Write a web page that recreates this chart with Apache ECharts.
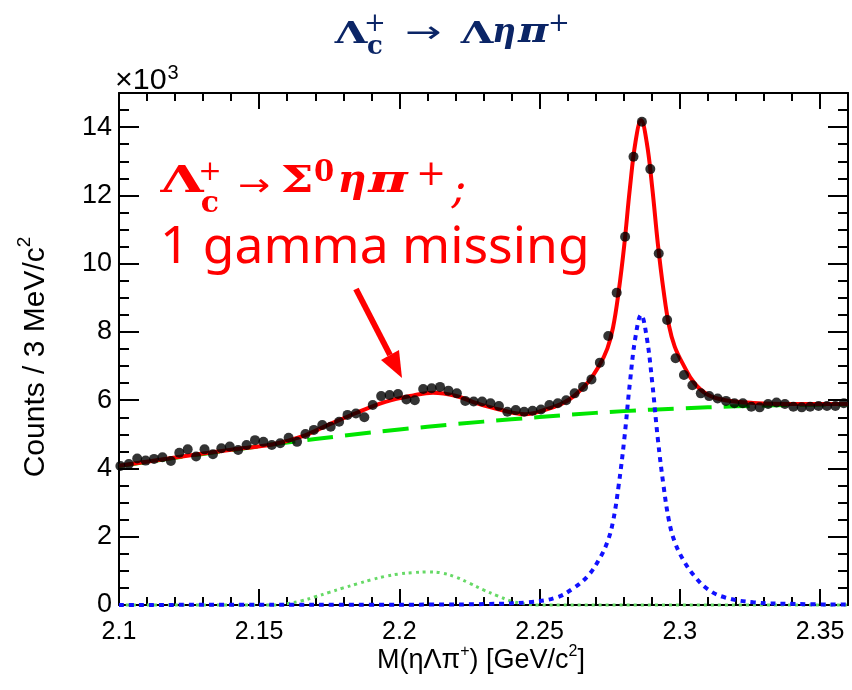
<!DOCTYPE html>
<html><head><meta charset="utf-8">
<script src="https://cdn.jsdelivr.net/npm/echarts@6/dist/echarts.min.js"></script>
<style>html,body{margin:0;padding:0;background:#fff}#c{width:852px;height:690px}</style>
</head><body><div id="c"></div>
<script>
// ---- data (values in units of 10^3 counts) ----
const binCenters = [
 2.1005,2.1035,2.1065,2.1095,2.1125,2.1155,2.1185,2.1215,2.1245,2.1275,
 2.1305,2.1335,2.1365,2.1395,2.1425,2.1455,2.1485,2.1515,2.1545,2.1575,
 2.1605,2.1635,2.1665,2.1695,2.1725,2.1755,2.1785,2.1815,2.1845,2.1875,
 2.1905,2.1935,2.1965,2.1995,2.2025,2.2055,2.2085,2.2115,2.2145,2.2175,
 2.2205,2.2235,2.2265,2.2295,2.2325,2.2355,2.2385,2.2415,2.2445,2.2475,
 2.2505,2.2535,2.2565,2.2595,2.2625,2.2655,2.2685,2.2715,2.2745,2.2775,
 2.2805,2.2835,2.2865,2.2895,2.2925,2.2955,2.2985,2.3015,2.3045,2.3075,
 2.3105,2.3135,2.3165,2.3195,2.3225,2.3255,2.3285,2.3315,2.3345,2.3375,
 2.3405,2.3435,2.3465,2.3495,2.3525,2.3555,2.3585];
const counts = [
 4.07,4.13,4.29,4.23,4.28,4.33,4.22,4.46,4.56,4.35,
 4.56,4.42,4.59,4.64,4.54,4.69,4.83,4.78,4.69,4.74,
 4.90,4.78,5.01,5.13,5.27,5.22,5.37,5.57,5.61,5.50,
 5.86,6.12,6.15,6.18,6.02,6.00,6.33,6.35,6.39,6.28,
 6.20,5.98,5.96,5.96,5.91,5.83,5.66,5.71,5.66,5.69,
 5.73,5.86,5.91,6.00,6.20,6.39,6.61,7.10,7.88,9.15,
 10.79,13.13,14.16,12.77,10.30,8.35,7.23,6.74,6.44,6.20,
 6.12,6.05,5.98,5.91,5.91,5.81,5.79,5.89,5.93,5.89,
 5.81,5.79,5.81,5.83,5.83,5.83,5.91];

const fitX = [2.100,2.120,2.140,2.155,2.165,2.175,2.185,2.195,2.205,2.212,2.220,2.228,2.236,2.245,2.252,2.258,
 2.2622,2.2672,2.2712,2.2742,2.2762,2.2782,2.2802,2.2822,2.2842,2.2862,2.2882,2.2902,2.2922,2.2942,2.2962,2.2982,
 2.3012,2.3052,2.3102,2.3162,2.3262,2.3412,2.360];
const fitY = [4.08,4.32,4.55,4.71,4.93,5.29,5.64,5.95,6.14,6.22,6.13,5.90,5.72,5.59,5.72,5.90,
 6.12,6.52,7.00,7.52,8.13,9.18,10.54,12.20,13.56,14.20,13.56,12.21,10.57,9.22,8.17,7.57,
 7.05,6.50,6.15,6.00,5.92,5.89,5.89];

const bgX = [2.10,2.12,2.14,2.16,2.18,2.20,2.22,2.24,2.26,2.28,2.30,2.32,2.34,2.36];
const bgY = [4.07,4.31,4.54,4.76,4.96,5.14,5.30,5.44,5.57,5.68,5.76,5.82,5.86,5.88];

const sigX = [2.100,2.150,2.190,2.211,2.231,2.246,2.256,2.2622,2.2672,2.2712,2.2742,2.2762,2.2782,2.2802,2.2822,2.2842,
 2.2862,2.2882,2.2902,2.2922,2.2942,2.2962,2.2982,2.3012,2.3052,2.3102,2.3162,2.3262,2.3412,2.360];
const sigY = [0.003,0.005,0.008,0.012,0.03,0.08,0.22,0.5,0.85,1.33,1.85,2.45,3.5,4.85,6.5,7.85,
 8.5,7.85,6.5,4.85,3.5,2.45,1.85,1.33,0.85,0.45,0.22,0.08,0.03,0.012];

const bumpX = [2.100,2.155,2.160,2.165,2.170,2.175,2.180,2.185,2.190,2.195,2.200,2.205,2.210,2.215,2.220,2.225,2.230,2.235,2.240,2.245,2.250,2.360];
const bumpY = [0,0,0.04,0.12,0.24,0.37,0.50,0.62,0.74,0.84,0.91,0.95,0.97,0.94,0.82,0.64,0.44,0.27,0.11,0.03,0,0];

const xTickLabels = ['2.1','2.15','2.2','2.25','2.3','2.35'];
const yTickLabels = ['0','2','4','6','8','10','12','14'];

// ---- helpers ----
const zip = (a,b) => a.map((v,i)=>[v,b[i]]);
const SANS = 'Liberation Sans, Arial, sans-serif';
const SERIF = 'DejaVu Serif, Liberation Serif, serif';
const NAVY = '#0b2566';
const RED = '#ff0000';

function glyph(text, cx, baseline, fs, color, opts) {
  opts = opts || {};
  const fam = opts.family || SERIF;
  const k = opts.k || 0.34;
  return {
    type: 'text', z: 100,
    x: cx, y: baseline - k*fs,
    scaleX: opts.sx || 1,
    style: {
      text: text, fill: color,
      font: (opts.style||'normal') + ' ' + (opts.weight||'bold') + ' ' + fs + 'px ' + fam,
      align: opts.align || 'center', textAlign: opts.align || 'center',
      verticalAlign: 'middle', textVerticalAlign: 'middle'
    }
  };
}

const gridRect = {left:119, right:4, top:93, bottom:85};
const tickStyle = {color:'#000', width:2};
function xAx(gi, pos, interval, len, showLine, showLabel) {
  return {
    type:'value', gridIndex:gi, position:pos, min:2.1, max:2.36, interval:interval,
    axisLine:{show:showLine, onZero:false, lineStyle:{color:'#000', width:2}},
    axisTick:{show:true, inside:true, length:len, lineStyle:tickStyle},
    splitLine:{show:false},
    axisLabel:{show:showLabel, showMaxLabel:false, margin:15, color:'#000', fontSize:25, fontFamily:SANS,
      formatter: v => { const i = Math.round((v-2.1)/0.05); return xTickLabels[i] || ''; }}
  };
}
function yAx(gi, pos, interval, len, showLine, showLabel) {
  return {
    type:'value', gridIndex:gi, position:pos, min:0, max:15, interval:interval,
    axisLine:{show:showLine, onZero:false, lineStyle:{color:'#000', width:2}},
    axisTick:{show:true, inside:true, length:len, lineStyle:tickStyle},
    splitLine:{show:false},
    axisLabel:{show:showLabel, showMaxLabel:false, margin:7, color:'#000', fontSize:27, fontFamily:SANS,
      formatter: v => { const i = Math.round(v/2); return yTickLabels[i] || ''; }}
  };
}

const chart = echarts.init(document.getElementById('c'), null, {renderer:'canvas'});
const option = {
  animation:false,
  backgroundColor:'#fff',
  grid:[0,1,2,3].map(()=>Object.assign({outerBoundsMode:'none', containLabel:false}, gridRect)),
  xAxis:[
    xAx(0,'bottom',0.05,16,true,true),
    xAx(1,'bottom',0.01,8,false,false),
    xAx(2,'top',0.05,16,true,false),
    xAx(3,'top',0.01,8,false,false)
  ],
  yAxis:[
    yAx(0,'left',2,20,true,true),
    yAx(1,'left',0.5,10,false,false),
    yAx(2,'right',2,20,true,false),
    yAx(3,'right',0.5,10,false,false)
  ],
  series:[
    {type:'line', name:'bump', data:zip(bumpX,bumpY), showSymbol:false, smooth:0.4, clip:false, z:3,
      lineStyle:{color:'#66d966', width:3, type:[3,4]}},
    {type:'line', name:'background', data:zip(bgX,bgY), showSymbol:false, smooth:0.4, clip:false, z:4,
      lineStyle:{color:'#00e600', width:4, type:[26,12]}},
    {type:'line', name:'signal', data:zip(sigX,sigY), showSymbol:false, smooth:0.4, clip:false, z:5,
      lineStyle:{color:'#1111ff', width:4, type:[5,5]}},
    {type:'line', name:'fit', data:zip(fitX,fitY), showSymbol:false, smooth:0.4, clip:false, z:6,
      lineStyle:{color:RED, width:4}},
    {type:'scatter', name:'data', data:zip(binCenters,counts), symbol:'circle', symbolSize:10, z:7,
      itemStyle:{color:'#000'}}
  ],
  graphic:[
    // title
    glyph('Λ', 351, 45, 30, NAVY, {sx:1.4}),
    glyph('+', 375, 33, 26, NAVY, {weight:'normal'}),
    glyph('c', 375, 56, 26, NAVY),
    glyph('→', 423, 44, 30, NAVY, {family:'DejaVu Sans', weight:'normal', sx:1.45}),
    glyph('Λ', 477, 45, 30, NAVY, {sx:1.4}),
    glyph('η', 504, 45, 33, NAVY, {style:'italic'}),
    glyph('π', 533, 45, 33, NAVY, {style:'italic', sx:1.25}),
    glyph('+', 559, 33, 26, NAVY, {weight:'normal'}),
    // annotation
    glyph('Λ', 182, 195, 37, RED, {sx:1.5}),
    glyph('+', 210, 182, 28, RED, {weight:'normal'}),
    glyph('c', 210, 214, 30, RED),
    glyph('→', 254, 199, 32, RED, {family:'DejaVu Sans', weight:'normal', sx:1.2}),
    glyph('Σ', 297, 195, 37, RED, {sx:1.25}),
    glyph('0', 324, 183, 29, RED),
    glyph('η', 352, 195, 40, RED, {style:'italic'}),
    glyph('π', 388, 195, 40, RED, {style:'italic', sx:1.35}),
    glyph('+', 431, 188, 36, RED, {weight:'normal'}),
    glyph(';', 459, 207, 44, RED, {style:'italic', weight:'normal'}),
    glyph('1 gamma missing', 160, 268, 51.5, RED, {family:'Noto Sans, Open Sans, sans-serif', weight:'normal', align:'left', k:0.39}),
    // arrow
    {type:'line', z:100, shape:{x1:356, y1:289, x2:390, y2:355}, style:{stroke:RED, lineWidth:6}},
    {type:'polygon', z:100, shape:{points:[[402,378],[399,350],[381,360]]}, style:{fill:RED}},
    // x10^3
    glyph('×10', 115, 91, 29, '#000', {family:SANS, weight:'normal', align:'left', sx:1.05}),
    glyph('3', 173, 80, 20, '#000', {family:SANS, weight:'normal'}),
    // axis titles
    {type:'text', z:100, x:481, y:661, style:{
      text:'M(ηΛπ{s|+}) [GeV/c{s|2}]', fill:'#000', font:'normal 27px '+SANS,
      align:'center', textAlign:'center', verticalAlign:'middle', textVerticalAlign:'middle', lineHeight:34,
      rich:{s:{fontSize:16, fontFamily:SANS, verticalAlign:'top', lineHeight:16, fill:'#000'}}}},
    {type:'text', z:100, x:36, y:357, rotation:Math.PI/2, style:{
      text:'Counts / 3 MeV/c{s|2}', fill:'#000', font:'normal 30px '+SANS,
      align:'center', textAlign:'center', verticalAlign:'middle', textVerticalAlign:'middle', lineHeight:42,
      rich:{s:{fontSize:19, fontFamily:SANS, verticalAlign:'top', lineHeight:19, fill:'#000'}}}}
  ]
};
chart.setOption(option);
</script>
</body></html>
